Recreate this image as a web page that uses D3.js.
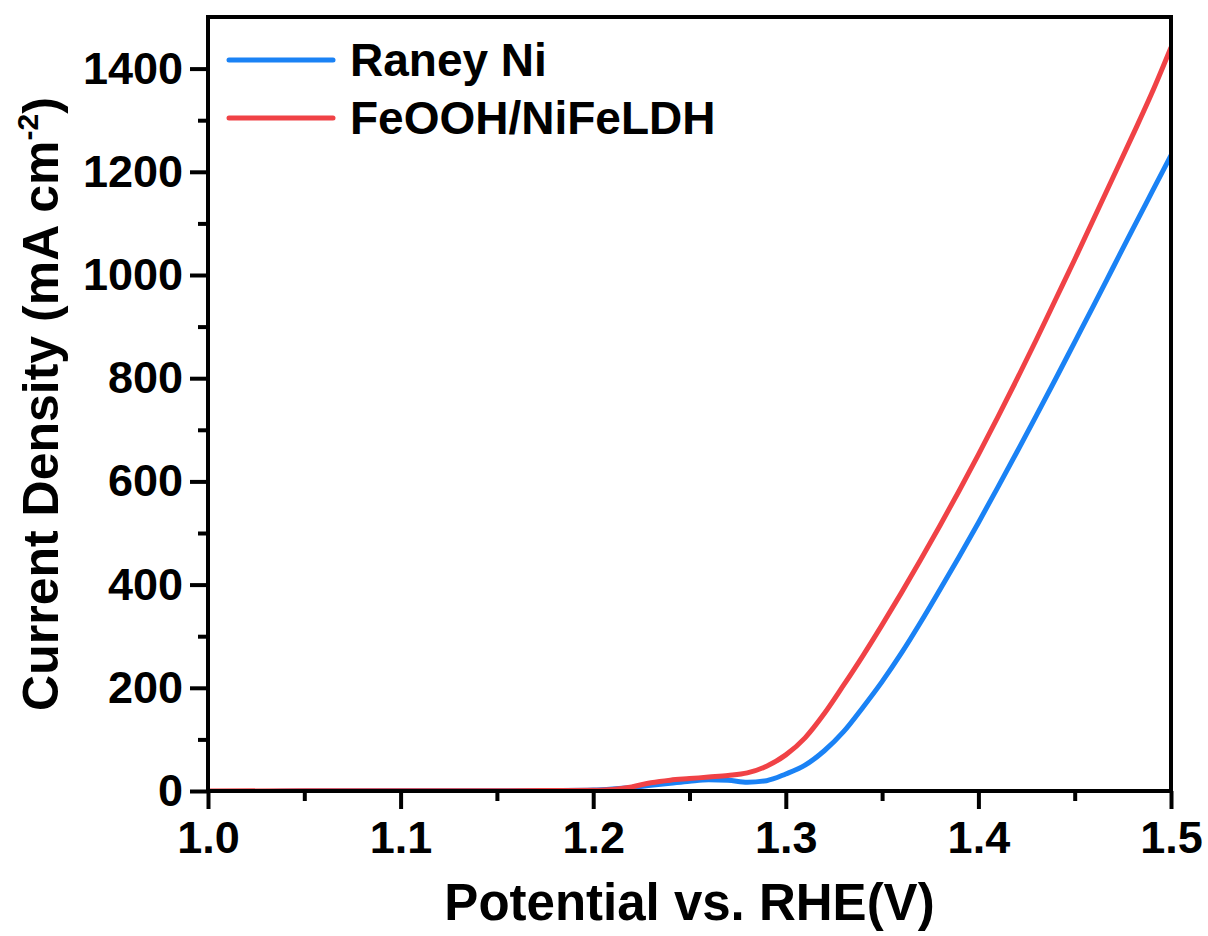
<!DOCTYPE html>
<html>
<head>
<meta charset="utf-8">
<script src="https://cdn.jsdelivr.net/npm/d3@7"></script>
<style>
  body { margin: 0; background: #fff; }
  svg { font-family: "Liberation Sans", Arial, sans-serif; font-weight: bold; }
</style>
</head>
<body>
<svg id="chart" width="1208" height="936"></svg>
<script>
// potential (V vs RHE)
const potential = [1.00, 1.05, 1.10, 1.15, 1.18, 1.20, 1.21, 1.22, 1.23, 1.24, 1.25, 1.26, 1.27, 1.28, 1.29,
  1.30, 1.31, 1.32, 1.33, 1.34, 1.35, 1.36, 1.37, 1.38, 1.39, 1.40, 1.41, 1.42, 1.43, 1.44, 1.45,
  1.46, 1.47, 1.48, 1.49, 1.50];
// current density (mA cm-2)
const raneyNi = [-3, 0, 0.5, 0.5, 1, 2, 4, 7, 11, 15, 19, 22, 21, 17, 20,
  33, 50, 78, 115, 162, 212, 267, 327, 390, 454, 520, 588, 657, 727, 798, 870,
  942, 1015, 1088, 1160, 1232];
const feoohNiFeLDH = [0, 0.5, 0.5, 0.5, 1, 1.5, 3, 8, 16, 21, 24, 27, 30, 35, 48,
  70, 103, 150, 205, 262, 322, 384, 448, 514, 582, 652, 724, 798, 874, 952, 1030,
  1110, 1190, 1270, 1352, 1441];

const seriesNames = ['Raney Ni', 'FeOOH/NiFeLDH'];
const seriesColors = ['#1a82f5', '#f04246'];
const xTicks = [1.0, 1.1, 1.2, 1.3, 1.4, 1.5];
const yTicks = [0, 200, 400, 600, 800, 1000, 1200, 1400];

const margin = { top: 17, right: 37, bottom: 145, left: 208 };
const width = 1208, height = 936;
const svg = d3.select('#chart');

const x = d3.scaleLinear().domain([1.0, 1.5]).range([margin.left, width - margin.right]);
const y = d3.scaleLinear().domain([0, 1500]).range([height - margin.bottom, margin.top]);

svg.append('clipPath').attr('id', 'clip')
  .append('rect')
  .attr('x', margin.left).attr('y', margin.top)
  .attr('width', x.range()[1] - margin.left).attr('height', y.range()[0] - margin.top);

const line = d3.line()
  .x(d => x(d[0]))
  .y(d => y(d[1]))
  .curve(d3.curveMonotoneX);

[raneyNi, feoohNiFeLDH].forEach((vals, i) => {
  svg.append('path')
    .datum(potential.map((p, k) => [p, vals[k]]))
    .attr('fill', 'none')
    .attr('stroke', seriesColors[i])
    .attr('stroke-width', 5)
    .attr('stroke-linejoin', 'round')
    .attr('clip-path', 'url(#clip)')
    .attr('d', line);
});

// frame
svg.append('rect')
  .attr('x', margin.left).attr('y', margin.top)
  .attr('width', x.range()[1] - margin.left)
  .attr('height', y.range()[0] - margin.top)
  .attr('fill', 'none')
  .attr('stroke', '#000')
  .attr('stroke-width', 4);

// minor ticks
const xMinor = d3.range(1.05, 1.5, 0.1);
const yMinor = d3.range(100, 1500, 200);
svg.append('g')
  .attr('transform', `translate(0,${y(0)})`)
  .call(d3.axisBottom(x).tickValues(xMinor).tickSize(10).tickFormat(''))
  .call(g => g.select('.domain').remove())
  .selectAll('line').attr('stroke-width', 4);
svg.append('g')
  .attr('transform', `translate(${margin.left},0)`)
  .call(d3.axisLeft(y).tickValues(yMinor).tickSize(10).tickFormat(''))
  .call(g => g.select('.domain').remove())
  .selectAll('line').attr('stroke-width', 4);

// major ticks
const xAxis = svg.append('g')
  .attr('transform', `translate(0,${y(0)})`)
  .call(d3.axisBottom(x).tickValues(xTicks).tickSize(18).tickPadding(12).tickFormat(d3.format('.1f')));
xAxis.select('.domain').remove();
xAxis.selectAll('line').attr('stroke-width', 4);
xAxis.selectAll('text')
  .attr('font-size', 45).attr('font-weight', 'bold').attr('font-family', '"Liberation Sans", Arial, sans-serif')
  .attr('fill', '#000');

const yAxis = svg.append('g')
  .attr('transform', `translate(${margin.left},0)`)
  .call(d3.axisLeft(y).tickValues(yTicks).tickSize(18).tickPadding(8).tickFormat(d3.format('d')));
yAxis.select('.domain').remove();
yAxis.selectAll('line').attr('stroke-width', 4);
yAxis.selectAll('text')
  .attr('x', -25)
  .attr('font-size', 45).attr('font-weight', 'bold').attr('font-family', '"Liberation Sans", Arial, sans-serif')
  .attr('fill', '#000');

// axis titles
svg.append('text')
  .attr('x', (margin.left + x.range()[1]) / 2)
  .attr('y', 920)
  .attr('text-anchor', 'middle')
  .attr('font-size', 51)
  .text('Potential vs. RHE(V)');

const yTitle = svg.append('text')
  .attr('transform', `translate(58,${(margin.top + y(0)) / 2}) rotate(-90)`)
  .attr('text-anchor', 'middle')
  .attr('font-size', 50);
yTitle.append('tspan').text('Current Density (mA cm');
yTitle.append('tspan').attr('font-size', 30).attr('dy', -20).text('-2');
yTitle.append('tspan').attr('dy', 20).text(')');

// legend
const legend = svg.append('g');
seriesNames.forEach((name, i) => {
  const ly = 60 + i * 58;
  legend.append('line')
    .attr('x1', 229).attr('x2', 333)
    .attr('y1', ly).attr('y2', ly)
    .attr('stroke', seriesColors[i])
    .attr('stroke-width', 5)
    .attr('stroke-linecap', 'round');
  legend.append('text')
    .attr('x', 350).attr('y', ly + 16)
    .attr('font-size', 46)
    .text(name);
});
</script>
</body>
</html>
